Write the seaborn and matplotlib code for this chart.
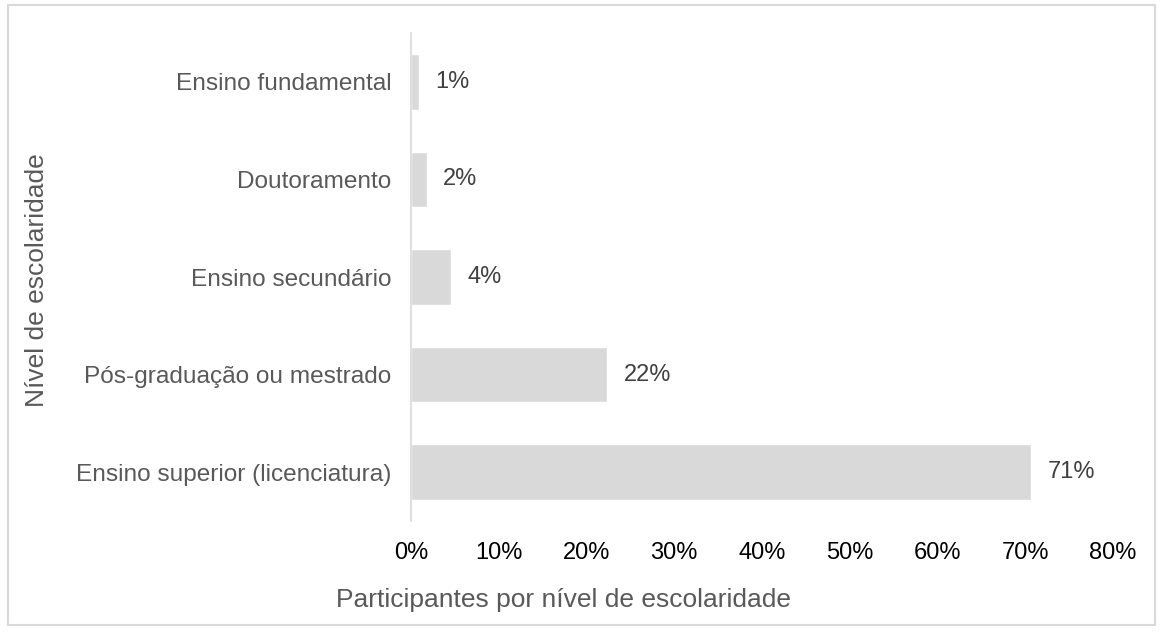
import matplotlib.pyplot as plt
import matplotlib.patches as mpatches
from matplotlib.ticker import FuncFormatter
import pandas as pd
import seaborn as sns

# Data
niveis = ['Ensino fundamental', 'Doutoramento', 'Ensino secundário',
          'Pós-graduação ou mestrado', 'Ensino superior (licenciatura)']
percent = [0.91, 1.79, 4.52, 22.37, 70.66]
rotulos = ['1%', '2%', '4%', '22%', '71%']
xticks = [0, 10, 20, 30, 40, 50, 60, 70, 80]

df = pd.DataFrame({'nivel': niveis, 'pct': percent})

sns.set_theme(style='white')
plt.rcParams['font.family'] = ['Liberation Sans', 'DejaVu Sans']

fig = plt.figure(figsize=(11.63, 6.32), dpi=100)
ax = fig.add_axes([411 / 1163, 1 - 521 / 632, (1113 - 411) / 1163, (521 - 33) / 632])

sns.barplot(data=df, x='pct', y='nivel', orient='h', color='#d9d9d9',
            width=0.57, saturation=1, ax=ax)

# Data labels
for i, (v, lab) in enumerate(zip(percent, rotulos)):
    ax.annotate(lab, (v, i), xytext=(12, 0), textcoords='offset points',
                va='center', ha='left', fontsize=17, color='#404040')

ax.set_xlim(0, 80)
ax.set_ylim(4.5, -0.5)
ax.set_xticks(xticks)
ax.xaxis.set_major_formatter(FuncFormatter(lambda x, p: f'{x:.0f}%'))
ax.tick_params(axis='x', labelsize=17, colors='#000000', length=0, pad=15)
ax.tick_params(axis='y', labelsize=17.6, colors='#595959', length=0, pad=14)

for s in ['top', 'right', 'bottom']:
    ax.spines[s].set_visible(False)
ax.spines['left'].set_color('#d9d9d9')
ax.spines['left'].set_linewidth(1.2)

ax.set_xlabel('Participantes por nível de escolaridade', fontsize=19, color='#595959')
ax.set_ylabel('Nível de escolaridade', fontsize=19, color='#595959')
ax.xaxis.set_label_coords((563 - 411) / 702, -0.137)
ax.yaxis.set_label_coords((49 - 411) / 702, 0.494)

# Light border around the whole chart area
fig.patches.append(mpatches.Rectangle((8 / 1163, 7 / 632), 1147 / 1163, 620 / 632,
                                      transform=fig.transFigure, fill=False,
                                      edgecolor='#d9d9d9', linewidth=1.5))

fig.savefig('out.png', dpi=100)
